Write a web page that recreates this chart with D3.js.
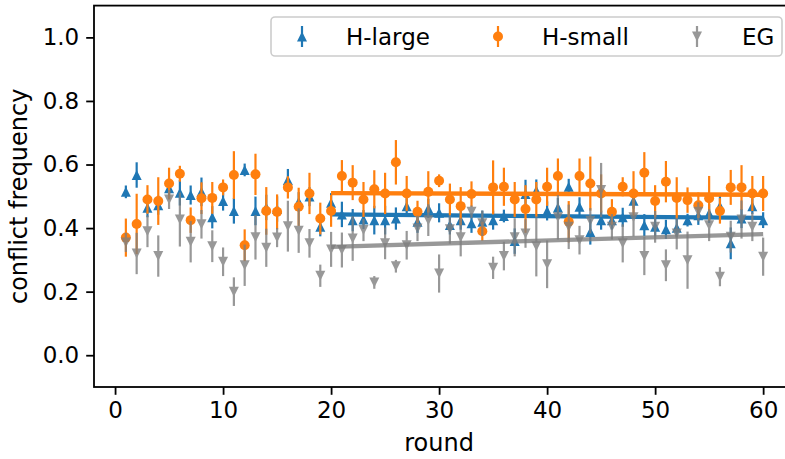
<!DOCTYPE html>
<html>
<head>
<meta charset="utf-8">
<script src="https://cdn.jsdelivr.net/npm/d3@7"></script>
<style>
  body { margin: 0; background: #fff; }
  text { font-family: "DejaVu Sans", sans-serif; }
</style>
</head>
<body>
<div id="chart"></div>
<script>
// rounds 1..60
var rounds = [1,2,3,4,5,6,7,8,9,10,11,12,13,14,15,16,17,18,19,20,
  21,22,23,24,25,26,27,28,29,30,31,32,33,34,35,36,37,38,39,40,
  41,42,43,44,45,46,47,48,49,50,51,52,53,54,55,56,57,58,59,60];

var largeMean = [0.514,0.567,0.464,0.472,0.525,0.511,0.504,0.514,0.434,0.485,
  0.454,0.583,0.454,0.465,0.460,0.551,0.483,0.499,0.404,0.480,
  0.443,0.425,0.427,0.425,0.425,0.430,0.469,0.420,0.462,0.448,
  0.410,0.425,0.415,0.420,0.425,0.438,0.359,0.507,0.518,0.454,
  0.465,0.530,0.467,0.388,0.425,0.425,0.434,0.486,0.409,0.404,
  0.396,0.401,0.425,0.440,0.446,0.469,0.352,0.430,0.469,0.425];
var largeErr = [0.020,0.040,0.030,0.030,0.030,0.040,0.030,0.045,0.035,0.030,
  0.040,0.020,0.045,0.040,0.040,0.035,0.030,0.030,0.030,0.030,
  0.040,0.035,0.030,0.045,0.045,0.035,0.025,0.035,0.030,0.030,
  0.030,0.030,0.030,0.035,0.030,0.020,0.040,0.045,0.035,0.030,
  0.030,0.025,0.030,0.040,0.030,0.030,0.030,0.025,0.035,0.030,
  0.030,0.030,0.020,0.030,0.030,0.040,0.050,0.030,0.025,0.025];

var smallMean = [0.370,0.413,0.490,0.485,0.540,0.571,0.425,0.494,0.495,0.528,
  0.567,0.346,0.569,0.454,0.451,0.528,0.467,0.509,0.430,0.454,
  0.564,0.543,0.490,0.522,0.509,0.607,0.509,0.451,0.514,0.549,
  0.490,0.469,0.507,0.390,0.528,0.530,0.490,0.460,0.490,0.530,
  0.564,0.420,0.564,0.540,0.509,0.451,0.530,0.509,0.574,0.485,
  0.546,0.495,0.488,0.472,0.494,0.454,0.528,0.528,0.509,0.509];
var smallErr = [0.060,0.095,0.045,0.075,0.050,0.025,0.040,0.050,0.050,0.025,
  0.075,0.050,0.065,0.075,0.055,0.035,0.060,0.065,0.050,0.050,
  0.050,0.055,0.055,0.060,0.065,0.070,0.055,0.035,0.065,0.020,
  0.050,0.060,0.040,0.030,0.085,0.060,0.055,0.075,0.055,0.060,
  0.055,0.065,0.055,0.085,0.060,0.040,0.030,0.070,0.065,0.050,
  0.065,0.065,0.040,0.040,0.070,0.040,0.055,0.070,0.055,0.055];

var egMean = [0.355,0.320,0.390,0.312,0.490,0.427,0.357,0.412,0.343,0.294,
  0.200,0.283,0.371,0.338,0.370,0.406,0.392,0.352,0.250,0.333,
  0.331,0.367,0.394,0.229,0.352,0.280,0.346,0.399,0.425,0.257,
  0.396,0.371,0.451,0.415,0.275,0.312,0.371,0.383,0.343,0.286,
  0.434,0.404,0.362,0.423,0.520,0.404,0.352,0.434,0.312,0.404,
  0.283,0.383,0.299,0.451,0.409,0.247,0.373,0.427,0.404,0.310];
var egErr = [0.030,0.065,0.050,0.065,0.030,0.085,0.065,0.045,0.050,0.045,
  0.045,0.065,0.070,0.060,0.030,0.080,0.070,0.045,0.035,0.055,
  0.055,0.070,0.035,0.020,0.050,0.020,0.045,0.040,0.050,0.060,
  0.045,0.060,0.020,0.040,0.035,0.045,0.060,0.045,0.095,0.075,
  0.070,0.070,0.045,0.040,0.085,0.040,0.060,0.060,0.060,0.050,
  0.050,0.050,0.090,0.030,0.050,0.030,0.050,0.060,0.045,0.060];

// fitted trend lines, rounds 20..60
var trendRounds = [20, 60];
var largeTrend = [0.443, 0.432];
var smallTrend = [0.510, 0.505];
var egTrend = [0.341, 0.381];

var xTicks = [0, 10, 20, 30, 40, 50, 60];
var yTicks = [0.0, 0.2, 0.4, 0.6, 0.8, 1.0];
var seriesNames = ["H-large", "H-small", "EG"];

var W = 785, H = 459;
var fs = 23, lfs = 24;

var svg = d3.select("#chart").append("svg")
  .attr("width", W).attr("height", H);

svg.append("rect").attr("width", W).attr("height", H).attr("fill", "#fff");

var x = d3.scaleLinear().domain([-1.95, 62.95]).range([94, 795]);
var y = d3.scaleLinear().domain([-0.1, 1.1]).range([387, 5.6]);

var series = [
  {name: seriesNames[0], mean: largeMean, err: largeErr, trend: largeTrend, color: "#1f77b4", marker: "up", op: 1},
  {name: seriesNames[1], mean: smallMean, err: smallErr, trend: smallTrend, color: "#ff7f0e", marker: "circle", op: 1},
  {name: seriesNames[2], mean: egMean, err: egErr, trend: egTrend, color: "#7f7f7f", marker: "down", op: 0.8}
];

var ms = 10;
function markerPath(type, r) {
  if (type === "up") return "M0," + (-r) + "L" + (-r) + "," + r + "L" + r + "," + r + "Z";
  if (type === "down") return "M0," + r + "L" + (-r) + "," + (-r) + "L" + r + "," + (-r) + "Z";
  return null;
}

var plot = svg.append("g");

series.forEach(function(s) {
  var g = plot.append("g").attr("opacity", s.op);
  rounds.forEach(function(r, i) {
    g.append("line")
      .attr("x1", x(r)).attr("x2", x(r))
      .attr("y1", y(s.mean[i] - s.err[i])).attr("y2", y(s.mean[i] + s.err[i]))
      .attr("stroke", s.color).attr("stroke-width", 2.2);
  });
  rounds.forEach(function(r, i) {
    if (s.marker === "circle") {
      g.append("circle").attr("cx", x(r)).attr("cy", y(s.mean[i]))
        .attr("r", ms / 2).attr("fill", s.color);
    } else {
      g.append("path").attr("d", markerPath(s.marker, ms / 2))
        .attr("transform", "translate(" + x(r) + "," + y(s.mean[i]) + ")")
        .attr("fill", s.color);
    }
  });
  plot.append("line")
    .attr("x1", x(trendRounds[0])).attr("x2", x(trendRounds[1]))
    .attr("y1", y(s.trend[0])).attr("y2", y(s.trend[1]))
    .attr("stroke", s.color).attr("stroke-width", 4.4)
    .attr("opacity", s.op);
});

// axes
var xAxis = svg.append("g").attr("transform", "translate(0,387)")
  .call(d3.axisBottom(x).tickValues(xTicks).tickSize(7.8).tickPadding(7).tickFormat(d3.format("d")));
var yAxis = svg.append("g").attr("transform", "translate(94,0)")
  .call(d3.axisLeft(y).tickValues(yTicks).tickSize(7.8).tickPadding(7).tickFormat(d3.format(".1f")));

[xAxis, yAxis].forEach(function(a) {
  a.select(".domain").remove();
  a.selectAll(".tick line").attr("stroke", "#000").attr("stroke-width", 1.8);
  a.selectAll(".tick text").attr("fill", "#000").style("font-size", fs + "px")
    .style("font-family", "DejaVu Sans");
});

// frame
svg.append("rect").attr("x", 94).attr("y", 5.6).attr("width", 701).attr("height", 381.4)
  .attr("fill", "none").attr("stroke", "#000").attr("stroke-width", 1.8);

svg.append("text").attr("x", x(30)).attr("y", 451)
  .attr("text-anchor", "middle").style("font-size", lfs + "px").text("round");

svg.append("text").attr("transform", "translate(27," + ((387 + 5.6) / 2) + ") rotate(-90)")
  .attr("text-anchor", "middle").style("font-size", lfs + "px").text("conflict frequency");

// legend
var leg = svg.append("g");
leg.append("rect").attr("x", 271).attr("y", 17).attr("width", 511).attr("height", 39)
  .attr("rx", 4).attr("fill", "#fff").attr("fill-opacity", 0.8)
  .attr("stroke", "#cccccc").attr("stroke-width", 1.6);
var legX = [302, 498, 697];
var legTextX = [346, 542, 742];
series.forEach(function(s, i) {
  var g = leg.append("g").attr("opacity", s.op);
  g.append("line").attr("x1", legX[i]).attr("x2", legX[i]).attr("y1", 26).attr("y2", 47)
    .attr("stroke", s.color).attr("stroke-width", 2.2);
  if (s.marker === "circle") {
    g.append("circle").attr("cx", legX[i]).attr("cy", 36.5).attr("r", ms / 2).attr("fill", s.color);
  } else {
    g.append("path").attr("d", markerPath(s.marker, ms / 2))
      .attr("transform", "translate(" + legX[i] + ",36.5)").attr("fill", s.color);
  }
  leg.append("text").attr("x", legTextX[i]).attr("y", 45)
    .style("font-size", fs + "px").text(s.name);
});
</script>
</body>
</html>
